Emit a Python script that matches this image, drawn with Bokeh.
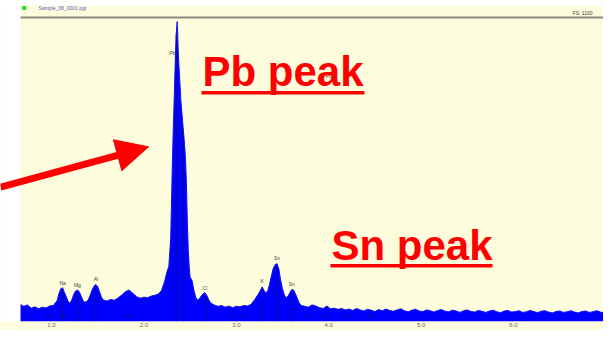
from bokeh.plotting import figure
from bokeh.models import Range1d, FixedTicker, Arrow, NormalHead
from bokeh.embed import file_html
from bokeh.resources import INLINE
from bokeh.core.properties import value

# ---------------- data ----------------
spec_kev = [
    0.66, 0.70, 0.74, 0.78, 0.82, 0.86, 0.90, 0.94, 0.98,
    1.02, 1.06, 1.08, 1.10, 1.12, 1.14, 1.16, 1.18, 1.20, 1.22,
    1.24, 1.26, 1.28, 1.30, 1.32, 1.34, 1.36, 1.38, 1.40, 1.42,
    1.44, 1.46, 1.48, 1.50, 1.52, 1.54, 1.56, 1.60, 1.64, 1.68,
    1.72, 1.76, 1.80, 1.84, 1.88, 1.92, 1.96, 2.00, 2.04, 2.08,
    2.12, 2.16, 2.19,
    2.22, 2.25, 2.27, 2.29, 2.30, 2.31, 2.32, 2.33, 2.34, 2.35,
    2.36, 2.365, 2.37, 2.38, 2.39, 2.40, 2.41, 2.42, 2.43, 2.44,
    2.45, 2.46, 2.47, 2.48, 2.49, 2.50, 2.52, 2.54, 2.56, 2.58,
    2.60, 2.62, 2.64, 2.66, 2.68, 2.70, 2.72,
    2.76, 2.80, 2.84, 2.88, 2.92, 2.96, 3.00, 3.04, 3.08, 3.12,
    3.16, 3.20, 3.24, 3.26, 3.28, 3.30, 3.32, 3.34, 3.36, 3.38,
    3.40, 3.42, 3.44, 3.46, 3.48, 3.50, 3.52, 3.54, 3.56, 3.58,
    3.60, 3.62, 3.64, 3.66, 3.68, 3.70, 3.74, 3.78, 3.82, 3.86,
    3.90, 3.94, 3.98, 4.02, 4.06, 4.10, 4.14, 4.18,
    4.22, 4.26, 4.30, 4.34, 4.38, 4.42, 4.46, 4.50, 4.54, 4.58,
    4.62, 4.66, 4.70, 4.74, 4.78, 4.82, 4.86, 4.90, 4.94, 4.98,
    5.02, 5.06, 5.10, 5.14, 5.18, 5.22, 5.26, 5.30, 5.34, 5.38,
    5.42, 5.46, 5.50, 5.54, 5.58, 5.62, 5.66, 5.70, 5.74, 5.78,
    5.82, 5.86, 5.90, 5.94, 5.98, 6.02, 6.06, 6.10, 6.14, 6.18,
    6.22, 6.26, 6.30, 6.34, 6.38, 6.42, 6.46, 6.50, 6.54, 6.58,
    6.62, 6.66, 6.70, 6.74, 6.78, 6.82, 6.86, 6.90, 6.94, 6.98,
    7.02, 7.06,
]
spec_counts = [
    62, 55, 60, 48, 53, 46, 52, 49, 56,
    58, 75, 100, 118, 122, 105, 90, 72, 66, 78,
    98, 110, 114, 108, 92, 76, 70, 72, 80, 96,
    115, 128, 134, 126, 108, 88, 78, 74, 80, 77,
    85, 96, 108, 114, 102, 90, 84, 88, 86, 92,
    95, 100, 112,
    140, 180, 200, 300, 450, 600, 720, 830, 950, 1040,
    1085, 1050, 990, 920, 860, 800, 760, 720, 680, 640,
    590, 500, 360, 260, 200, 160, 150, 115, 88, 78,
    82, 92, 100, 104, 95, 80, 68,
    60, 55, 58, 52, 56, 50, 55, 53, 58, 56,
    62, 80, 100, 112, 125, 112, 104, 110, 135, 165,
    192, 205, 210, 190, 150, 118, 96, 86, 92, 104,
    116, 114, 100, 84, 68, 58, 55, 52, 60, 56,
    50, 47, 56, 46, 48, 44, 47, 42,
    45, 40, 47, 42, 38, 44, 41, 36, 43, 39,
    45, 40, 37, 42, 46, 39, 35, 41, 44, 38,
    36, 42, 39, 34, 40, 43, 37, 35, 41, 38,
    33, 39, 42, 36, 34, 40, 37, 33, 38, 41,
    35, 32, 38, 40, 34, 36, 39, 33, 35, 40,
    36, 32, 37, 39, 34, 31, 36, 38, 33, 35,
    39, 34, 31, 36, 38, 33, 35, 39, 34, 32,
    37, 35,
]
assert len(spec_kev) == len(spec_counts)

tick_kev = [1, 2, 3, 4, 5, 6]
tick_labels = ["1.0", "2.0", "3.0", "4.0", "5.0", "6.0"]

marker_kev = [1.12, 1.28, 1.48, 2.35, 2.42, 2.66, 3.28, 3.44, 3.60]
marker_top = [115, 108, 128, 1040, 700, 98, 118, 200, 108]

peak_label_kev = [1.12, 1.28, 1.48, 2.31, 2.66, 3.28, 3.44, 3.60, 4.00]
peak_label_cnt = [130, 122, 142, 960, 112, 134, 220, 124, 876]
peak_label_txt = ["Na", "Mg", "Al", "Pb", "Cl", "K", "Sn", "Sn", "Pb"]

base_label_kev = [0.97, 1.12, 1.84, 2.95, 3.09, 3.78, 3.97, 4.20, 4.45]
base_label_txt = ["Ca", "Na", "Pb", "Ar", "Ca", "Cr", "Fe", "Co", "Ni"]

title_text = "Sample_38_0001.pgt"
fs_text = "FS: 1100"
full_scale = 1100

# ---------------- figure ----------------
YELLOW = "#fdfcdc"
BLUE = "#0000ff"
RED = "#ff0000"

p = figure(width=603, height=330,
           x_range=Range1d(0.448, 6.974), y_range=Range1d(0, 1161.5),
           output_backend="svg", toolbar_location=None,
           y_axis_location=None,
           min_border_left=0, min_border_right=0,
           min_border_top=0, min_border_bottom=9,
           background_fill_color=YELLOW, border_fill_color=YELLOW,
           outline_line_color=None)
p.grid.visible = False

ax = p.xaxis[0]
ax.ticker = FixedTicker(ticks=tick_kev)
ax.major_label_overrides = {t: l for t, l in zip(tick_kev, tick_labels)}
ax.axis_line_color = None
ax.major_tick_line_color = None
ax.minor_tick_line_color = None
ax.major_tick_out = 0
ax.major_tick_in = 0
ax.minor_tick_out = 0
ax.minor_tick_in = 0
ax.major_label_text_font_size = "6px"
ax.major_label_text_color = "#6a6a60"
ax.major_label_standoff = 1
ax.major_label_text_font = "Liberation Sans"

# spectrum
p.varea(x=spec_kev, y1=0, y2=spec_counts, fill_color=BLUE)
p.line(x=spec_kev, y=spec_counts, line_color="#1010f0", line_width=1)

# element marker lines
p.segment(x0=marker_kev, y0=[0] * len(marker_kev), x1=marker_kev, y1=marker_top,
          line_color="#10105a", line_width=1, line_alpha=0.7)

# peak labels
p.text(x=peak_label_kev, y=peak_label_cnt, text=peak_label_txt,
       text_font=value("Liberation Sans"), text_font_size="5px",
       text_color="#444444", text_align="center", text_baseline="bottom")
p.text(x=base_label_kev, y=[10] * len(base_label_kev), text=base_label_txt,
       text_font=value("Liberation Sans"), text_font_size="5px",
       text_color="#1a1a50", text_align="center", text_baseline="bottom",
       text_alpha=0.8)

# white strips (left and top)
p.quad(left=0.30, right=0.6645, bottom=-20, top=1250, fill_color="white", line_color=None)
p.quad(left=0.30, right=7.2, bottom=1143, top=1250, fill_color="white", line_color=None)

# header
p.segment(x0=0.6645, y0=full_scale, x1=7.2, y1=full_scale, line_color="#8b8b83", line_width=2)
p.scatter(x=[0.705], y=[1134], size=4, marker="square", fill_color="#22dd22", line_color=None)
p.text(x=[0.86], y=[1134], text=[title_text], text_font=value("Liberation Sans"),
       text_font_size="5px", text_color="#5a5ac8", text_baseline="middle")
p.text(x=[6.855], y=[1104], text=[fs_text], text_font=value("Liberation Sans"),
       text_font_size="5px", text_color="#444444", text_align="right", text_baseline="bottom")

# annotations
p.text(x=[2.634], y=[904], text=["Pb peak"], text_font=value("Liberation Sans"),
       text_font_style="bold", text_font_size="42px", text_color=RED,
       text_baseline="middle", text_align="left")
p.segment(x0=[2.623], y0=[828], x1=[4.387], y1=[828], line_color=RED, line_width=3.5)

p.text(x=[4.030], y=[276], text=["Sn peak"], text_font=value("Liberation Sans"),
       text_font_style="bold", text_font_size="42px", text_color=RED,
       text_baseline="middle", text_align="left")
p.segment(x0=[4.019], y0=[202], x1=[5.773], y1=[202], line_color=RED, line_width=3.5)

p.add_layout(Arrow(end=NormalHead(size=32, fill_color=RED, line_color=RED),
                   x_start=0.448, y_start=486, x_end=2.050, y_end=632,
                   line_color=RED, line_width=7))

open("out.html", "w").write(file_html(p, INLINE))
